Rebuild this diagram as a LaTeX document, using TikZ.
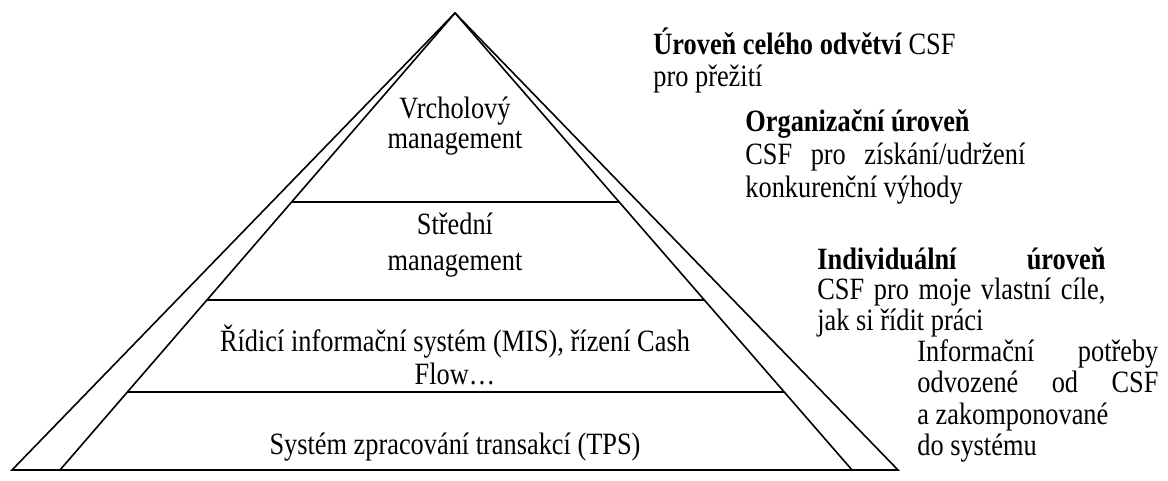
\documentclass[tikz,border=0pt]{standalone}
\usepackage{fontspec}
\setmainfont{Liberation Serif}[FakeStretch=0.85]
\usetikzlibrary{calc}
\begin{document}
\begin{tikzpicture}[
    x=0.5pt, y=-0.5pt,
    edge/.style={line width=0.8pt},
    layer/.style={inner sep=0pt, align=center, anchor=north},
    note/.style={inner sep=0pt, align=left, anchor=north west}
  ]
  \useasboundingbox (0,0) rectangle (1168,481);
  \coordinate (apex) at (455,13);
  \coordinate (outL) at (12,470);
  \coordinate (outR) at (898,470);
  \coordinate (inL) at (60,470);
  \coordinate (inR) at (852,470);
  % pyramid
  \draw[edge] (outL) -- (apex) -- (outR) -- cycle;
  \draw[edge] (inL) -- (apex) -- (inR);
  \foreach \t in {0.4136,0.628,0.829}
    \draw[edge] ($(apex)!\t!(inL)$) -- ($(apex)!\t!(inR)$);
  % layers
  \node[layer, font=\fontsize{15.5}{15}\selectfont] (top) at (455,97) {Vrcholový\\management};
  \node[layer, font=\fontsize{15.5}{18}\selectfont] (mid) at (455,213) {Střední\\management};
  \node[layer, font=\fontsize{15.5}{16.5}\selectfont] (mis) at (455,324) {Řídicí informační systém (MIS), řízení Cash\\Flow…};
  \node[inner sep=0pt, anchor=base, font=\fontsize{15.5}{16}\selectfont] (tps) at (455,454) {Systém zpracování transakcí (TPS)};
  % levels
  \node[note, font=\fontsize{15.5}{16}\selectfont] (branch) at (653,28) {\textbf{Úroveň celého odvětví} CSF\\pro přežití};
  \node[note, font=\fontsize{15.5}{16.5}\selectfont] (org) at (745,109) {\textbf{Organizační úroveň}\\\makebox[140pt][s]{CSF pro získání/udržení}\\konkurenční výhody};
  \node[note, font=\fontsize{15.5}{15.25}\selectfont] (indiv) at (817,247) {\makebox[144pt][s]{\textbf{Individuální úroveň}}\\\makebox[144pt][s]{CSF pro moje vlastní cíle,}\\jak si řídit práci};
  \node[note, font=\fontsize{15.5}{15.75}\selectfont] (info) at (917,339) {\makebox[120.5pt][s]{Informační potřeby}\\\makebox[120.5pt][s]{odvozené od CSF}\\a zakomponované\\do systému};
\end{tikzpicture}
\end{document}
